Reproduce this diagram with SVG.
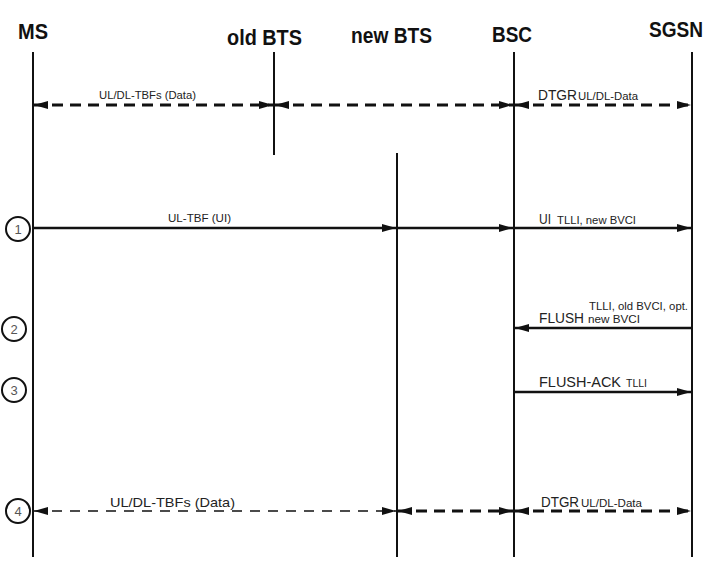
<svg xmlns="http://www.w3.org/2000/svg" width="710" height="567" viewBox="0 0 710 567">
<style>
text{font-family:"Liberation Sans",Arial,sans-serif;fill:#222}
.hdr{font-weight:bold;font-size:22px;fill:#111}
.sm{font-size:11px}
.md{font-size:13px}
.lg{font-size:15px}
.life{stroke:#111;stroke-width:2;fill:none}
.solid{stroke:#111;stroke-width:2.5;fill:none}
.dash{stroke:#111;stroke-width:3;stroke-dasharray:11 7;fill:none}
.thin{stroke:#111;stroke-width:1.5;stroke-dasharray:10 8;fill:none}
.num{fill:#fff;stroke:#111;stroke-width:2}
.nt{font-size:13px;fill:#555;text-anchor:middle}
</style>
<defs>
<marker id="ah" markerWidth="14" markerHeight="8" refX="14" refY="4" orient="auto" markerUnits="userSpaceOnUse">
<path d="M0,0 L14,4 L0,8 Z" fill="#111"/>
</marker>
<marker id="as" markerWidth="14" markerHeight="8" refX="0" refY="4" orient="auto" markerUnits="userSpaceOnUse">
<path d="M14,0 L0,4 L14,8 Z" fill="#111"/>
</marker>
</defs>
<g id="MS"><text class="hdr" x="18" y="39" textLength="30" lengthAdjust="spacingAndGlyphs">MS</text><line class="life" x1="33" y1="52" x2="33" y2="557"/></g>
<g id="oldBTS"><text class="hdr" x="227" y="45" textLength="75" lengthAdjust="spacingAndGlyphs">old BTS</text><line class="life" x1="274" y1="52" x2="274" y2="155"/></g>
<g id="newBTS"><text class="hdr" x="351" y="43" textLength="81" lengthAdjust="spacingAndGlyphs">new BTS</text><line class="life" x1="397" y1="153" x2="397" y2="557"/></g>
<g id="BSC"><text class="hdr" x="492" y="42" textLength="40" lengthAdjust="spacingAndGlyphs">BSC</text><line class="life" x1="514" y1="52" x2="514" y2="557"/></g>
<g id="SGSN"><text class="hdr" x="649" y="37" textLength="54" lengthAdjust="spacingAndGlyphs">SGSN</text><line class="life" x1="692" y1="52" x2="692" y2="557"/></g>
<g id="steps">
<circle class="num" cx="18" cy="229" r="12"/><text class="nt" x="18" y="234">1</text>
<circle class="num" cx="14" cy="329" r="12"/><text class="nt" x="14" y="334">2</text>
<circle class="num" cx="14" cy="390" r="12"/><text class="nt" x="14" y="395">3</text>
<circle class="num" cx="18" cy="511" r="12"/><text class="nt" x="18" y="516">4</text>
</g>
<g id="connectors">
<line class="dash" x1="34" y1="105" x2="273" y2="105" marker-start="url(#as)" marker-end="url(#ah)"/>
<line class="dash" x1="275" y1="105" x2="513" y2="105" marker-start="url(#as)" marker-end="url(#ah)"/>
<line class="dash" x1="515" y1="105" x2="691" y2="105" marker-start="url(#as)" marker-end="url(#ah)"/>
<line class="solid" x1="34" y1="228" x2="396" y2="228" marker-end="url(#ah)"/>
<line class="solid" x1="398" y1="228" x2="513" y2="228" marker-end="url(#ah)"/>
<line class="solid" x1="515" y1="228" x2="691" y2="228" marker-end="url(#ah)"/>
<line class="solid" x1="691" y1="328" x2="515" y2="328" marker-end="url(#ah)"/>
<line class="solid" x1="515" y1="392" x2="691" y2="392" marker-end="url(#ah)"/>
<line class="thin" x1="34" y1="511" x2="396" y2="511" marker-start="url(#as)" marker-end="url(#ah)"/>
<line class="dash" x1="398" y1="511" x2="513" y2="511" marker-start="url(#as)" marker-end="url(#ah)"/>
<line class="dash" x1="515" y1="511" x2="691" y2="511" marker-start="url(#as)" marker-end="url(#ah)"/>
</g>
<g id="labels">
<text class="sm" x="99" y="99" textLength="97" lengthAdjust="spacingAndGlyphs">UL/DL-TBFs (Data)</text>
<text class="lg" x="538" y="100" textLength="39" lengthAdjust="spacingAndGlyphs">DTGR</text><text class="sm" x="578" y="100" textLength="60" lengthAdjust="spacingAndGlyphs">UL/DL-Data</text>
<text class="sm" x="168" y="222" textLength="63" lengthAdjust="spacingAndGlyphs">UL-TBF (UI)</text>
<text class="lg" x="539" y="224" textLength="12" lengthAdjust="spacingAndGlyphs">UI</text><text class="sm" x="557" y="224" textLength="79" lengthAdjust="spacingAndGlyphs">TLLI, new BVCI</text>
<text class="sm" x="589" y="310" textLength="99" lengthAdjust="spacingAndGlyphs">TLLI, old BVCI, opt.</text>
<text class="lg" x="539" y="323" textLength="45" lengthAdjust="spacingAndGlyphs">FLUSH</text><text class="sm" x="588" y="323" textLength="52" lengthAdjust="spacingAndGlyphs">new BVCI</text>
<text class="lg" x="539" y="387" textLength="82" lengthAdjust="spacingAndGlyphs">FLUSH-ACK</text><text class="sm" x="626" y="387" textLength="21" lengthAdjust="spacingAndGlyphs">TLLI</text>
<text class="md" x="110" y="507" textLength="125" lengthAdjust="spacingAndGlyphs">UL/DL-TBFs (Data)</text>
<text class="lg" x="541" y="507" textLength="38" lengthAdjust="spacingAndGlyphs">DTGR</text><text class="sm" x="581" y="507" textLength="61" lengthAdjust="spacingAndGlyphs">UL/DL-Data</text>
</g>
</svg>
